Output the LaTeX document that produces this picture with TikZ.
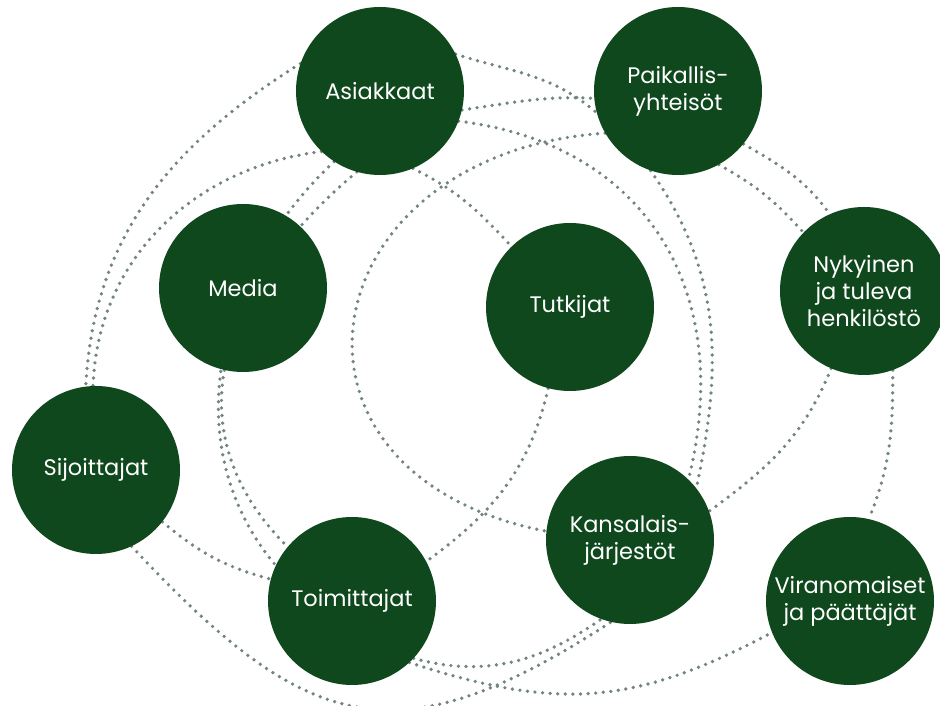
\documentclass[tikz,border=0pt]{standalone}
\usepackage{fontspec}
\setmainfont{Poppins}
\usetikzlibrary{backgrounds}
\definecolor{vihrea}{RGB}{16,72,29}
\definecolor{pisteet}{RGB}{114,133,127}

\begin{document}
\begin{tikzpicture}[
  x=1pt,
  y=1pt,
  line cap=round,
  ryhma/.style={
    circle,
    fill=vihrea,
    text=white,
    minimum size=168pt,
    inner sep=0pt,
    align=center,
    font=\fontsize{22.5}{27}\selectfont
  },
  pistev/.style={
    draw=pisteet,
    line width=3.7pt,
    line cap=round,
    dash pattern=on 0pt off 7.6pt
  }
]
  \useasboundingbox (0,0) rectangle (940,706);

  % Sidosryhmät
  \node[ryhma] (asi) at (380,615) {Asiakkaat};
  \node[ryhma] (pai) at (678,615) {Paikallis-\\yhteisöt};
  \node[ryhma] (med) at (243,418) {Media};
  \node[ryhma] (tut) at (570,399) {Tutkijat};
  \node[ryhma] (nyk) at (864,415) {Nykyinen\\ja tuleva\\henkilöstö};
  \node[ryhma] (sij) at (96,236) {Sijoittajat};
  \node[ryhma] (toi) at (352,105) {Toimittajat};
  \node[ryhma] (kan) at (630,166) {Kansalais-\\järjestöt};
  \node[ryhma] (vir) at (850,105) {Viranomaiset\\ja päättäjät};

  % Pisteviivat
  \begin{scope}[on background layer]
    \draw[pistev] (asi.161) to[out=212,in=87] (sij.97);
    \draw[pistev] (asi.226) to[out=187,in=88] (sij.92);
    \draw[pistev] (asi.237) to[out=223,in=130] (toi.155);
    \draw[pistev] (asi.254) to[out=220,in=135,looseness=1.15] (toi.140);
    \draw[pistev] (asi.293) to[out=334,in=133] (tut.134);
    \draw[pistev] (asi.339) to[out=353,in=76,looseness=1.15] (kan.46);
    \draw[pistev] (asi.347) to[out=8,in=177] (pai.185);
    \draw[pistev] (asi.26) to[out=342,in=139] (pai.195);

    \draw[pistev] (pai.251) to[out=305,in=78] (kan.38);
    \draw[pistev] (pai.210) to[out=184,in=169,looseness=1.9] (kan.174);
    \draw[pistev] (pai.321) to[out=330,in=126] (nyk.114);
    \draw[pistev] (pai.299) to[out=331,in=132] (nyk.136);

    \draw[pistev] (nyk.290) to[out=270,in=68] (vir.77);
    \draw[pistev] (nyk.247) to[out=248,in=36] (kan.20);

    \draw[pistev] (tut.255) to[out=257,in=36] (toi.28);

    \draw[pistev] (sij.322) to[out=320,in=165] (toi.165);
    \draw[pistev] (sij.295) to[out=313,in=213,looseness=1.35] (kan.257);

    \draw[pistev] (toi.317) to[out=345,in=215] (kan.250);
    \draw[pistev] (toi.313) to[out=342,in=208,looseness=1.1] (vir.202);
  \end{scope}
\end{tikzpicture}
\end{document}
